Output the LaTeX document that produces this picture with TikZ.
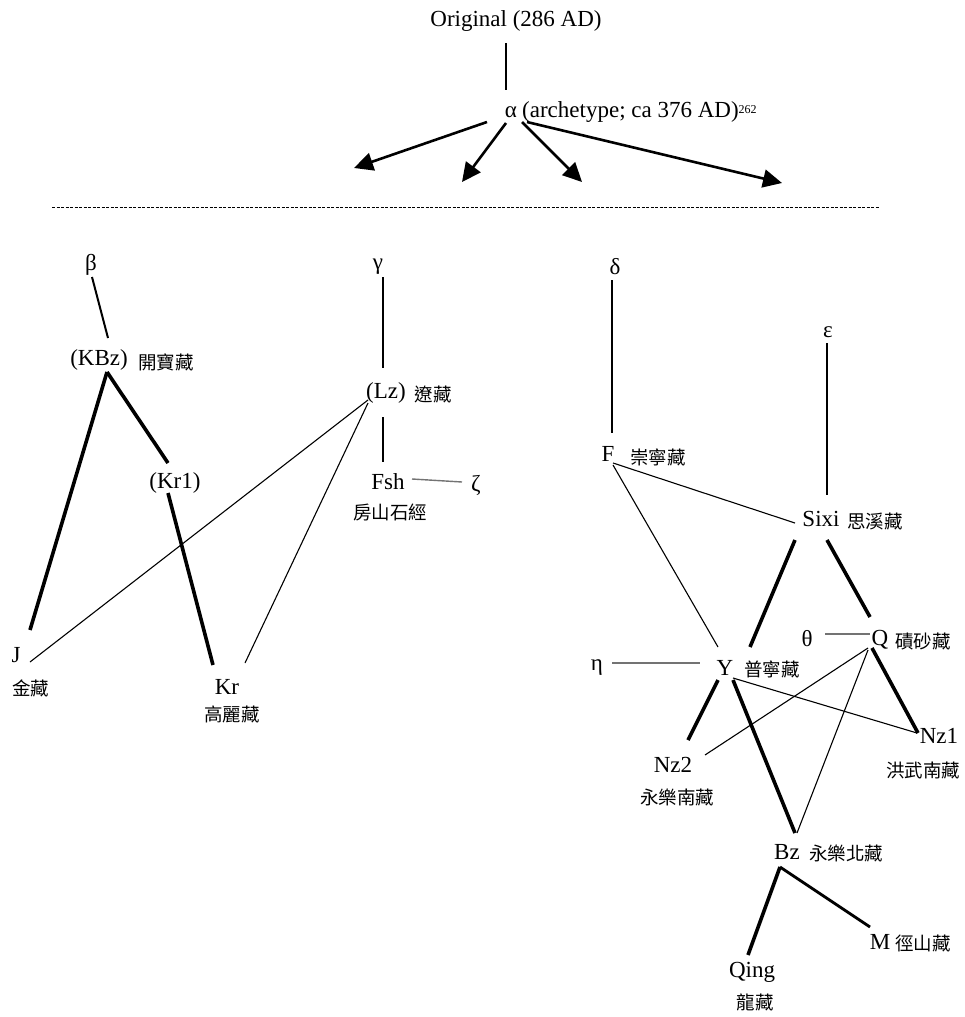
\documentclass[tikz,border=0pt]{standalone}
\usepackage{fontspec}
\setmainfont{Liberation Serif}
\newfontfamily\cjk{Noto Sans CJK TC}
\usetikzlibrary{calc,arrows.meta}
\tikzset{
  lbl/.style={font=\fontsize{23}{25}\selectfont, inner sep=0pt},
  zh/.style={font=\cjk\fontsize{18.5}{20}\selectfont, inner sep=0pt},
  heavy/.style={line width=3.6pt},
  medium/.style={line width=2pt},
  slim/.style={line width=1.1pt},
  faint/.style={line width=1.4pt, black!55},
  arr/.style={line width=2.6pt, -{Triangle[length=19pt,width=18pt]}},
  sepline/.style={line width=1pt, dash pattern=on 3pt off 1.5pt},
}
\begin{document}
\begin{tikzpicture}[x=1pt,y=-1pt]
\useasboundingbox (0,0) rectangle (965,1017);

% top
\node[lbl] (orig) at (516,21) {Original (286 AD)};
\node[lbl] (alpha) at (511,112) {α};
\node[lbl, anchor=west] (arch) at (522,112) {(archetype; ca 376 AD)\raisebox{0.4ex}{\fontsize{12}{13}\selectfont 262}};
\draw[medium] ($(orig)+(-10,22)$) -- ($(alpha)+(-5,-22)$);
\coordinate (t1) at (354,168);
\coordinate (t2) at (462,182);
\coordinate (t3) at (582,182);
\coordinate (t4) at (782,183);
\draw[arr] ($(alpha)+(-24,10)$) -- (t1);
\draw[arr] ($(alpha)+(-5,11)$) -- (t2);
\draw[arr] ($(alpha)+(11,10)$) -- (t3);
\draw[arr] ($(alpha)+(16,10)$) -- (t4);
\coordinate (sepL) at (52,207);
\coordinate (sepR) at (880,207);
\draw[sepline] (sepL) -- (sepR);

% left tree
\node[lbl] (beta) at (91,265) {β};
\node[lbl] (KBz) at (99,360) {(KBz)};
\node[zh] (zhKBz) at (166,362) {開寶藏};
\node[lbl] (Kr1) at (175,483) {(Kr1)};
\node[lbl] (J) at (16,655) {J};
\node[zh] (zhJ) at (31,688) {金藏};
\node[lbl] (Kr) at (227,687) {Kr};
\node[zh] (zhKr) at (232,714) {高麗藏};
\node[lbl] (gamma) at (378,267) {γ};
\node[lbl] (Lz) at (386,393) {(Lz)};
\node[zh] (zhLz) at (433,394) {遼藏};
\node[lbl] (Fsh) at (388,482) {Fsh};
\node[zh] (zhFsh) at (390,512) {房山石經};
\node[lbl] (zeta) at (476,485) {ζ};

\draw[medium] ($(beta)+(1,12)$) -- ($(KBz)+(9,-22)$);
\draw[heavy] ($(KBz)+(8,12)$) -- ($(J)+(14,-25)$);
\draw[heavy] ($(KBz)+(8,12)$) -- ($(Kr1)+(-7,-20)$);
\draw[heavy] ($(Kr1)+(-7,10)$) -- ($(Kr)+(-14,-22)$);
\draw[medium] ($(gamma)+(5,10)$) -- ($(Lz)+(-3,-25)$);
\draw[medium] ($(Lz)+(-3,24)$) -- ($(Fsh)+(-5,-20)$);
\draw[faint] ($(Fsh)+(24,-3)$) -- ($(zeta)+(-14,-3)$);
\draw[slim] ($(Lz)+(-18,7)$) -- ($(J)+(14,7)$);
\draw[slim] ($(Lz)+(-18,10)$) -- ($(Kr)+(18,-24)$);

% right tree
\node[lbl] (delta) at (615,267) {δ};
\node[lbl] (F) at (608,454) {F};
\node[zh] (zhF) at (658,457) {崇寧藏};
\node[lbl] (epsilon) at (828,332) {ε};
\node[lbl] (Sixi) at (821,519) {Sixi};
\node[zh] (zhSixi) at (875,521) {思溪藏};
\node[lbl] (theta) at (807,639) {θ};
\node[lbl] (Q) at (880,640) {Q};
\node[zh] (zhQ) at (923,641) {磧砂藏};
\node[lbl] (eta) at (597,668) {η};
\node[lbl] (Y) at (725,668) {Y};
\node[zh] (zhY) at (772,669) {普寧藏};
\node[lbl] (Nz2) at (673,765) {Nz2};
\node[zh] (zhNz2) at (677,797) {永樂南藏};
\node[lbl] (Nz1) at (939,736) {Nz1};
\node[zh] (zhNz1) at (923,770) {洪武南藏};
\node[lbl] (Bz) at (787,852) {Bz};
\node[zh] (zhBz) at (846,853) {永樂北藏};
\node[lbl] (Qing) at (752,972) {Qing};
\node[zh] (zhQing) at (755,1002) {龍藏};
\node[lbl] (M) at (880,942) {M};
\node[zh] (zhM) at (923,943) {徑山藏};

\draw[medium] ($(delta)+(-3,13)$) -- ($(F)+(4,-21)$);
\draw[medium] ($(epsilon)+(-1,11)$) -- ($(Sixi)+(6,-24)$);
\draw[slim] ($(F)+(5,9)$) -- ($(Sixi)+(-26,4)$);
\draw[slim] ($(F)+(5,11)$) -- ($(Y)+(-7,-21)$);
\draw[heavy] ($(Sixi)+(-26,21)$) -- ($(Y)+(25,-21)$);
\draw[heavy] ($(Sixi)+(6,21)$) -- ($(Q)+(-10,-23)$);
\draw[faint] ($(theta)+(18,-5)$) -- ($(Q)+(-10,-6)$);
\draw[faint] ($(eta)+(15,-5)$) -- ($(Y)+(-25,-5)$);
\draw[heavy] ($(Y)+(-7,12)$) -- ($(Nz2)+(15,-25)$);
\draw[heavy] ($(Y)+(8,12)$) -- ($(Bz)+(8,-19)$);
\draw[slim] ($(Y)+(8,10)$) -- ($(Nz1)+(-22,-3)$);
\draw[heavy] ($(Q)+(-8,8)$) -- ($(Nz1)+(-21,-3)$);
\draw[slim] ($(Q)+(-12,8)$) -- ($(Nz2)+(32,-10)$);
\draw[slim] ($(Q)+(-12,10)$) -- ($(Bz)+(10,-19)$);
\draw[heavy] ($(Bz)+(-7,15)$) -- ($(Qing)+(-4,-17)$);
\draw[line width=2.8pt] ($(Bz)+(-7,15)$) -- ($(M)+(-10,-15)$);
\end{tikzpicture}
\end{document}
